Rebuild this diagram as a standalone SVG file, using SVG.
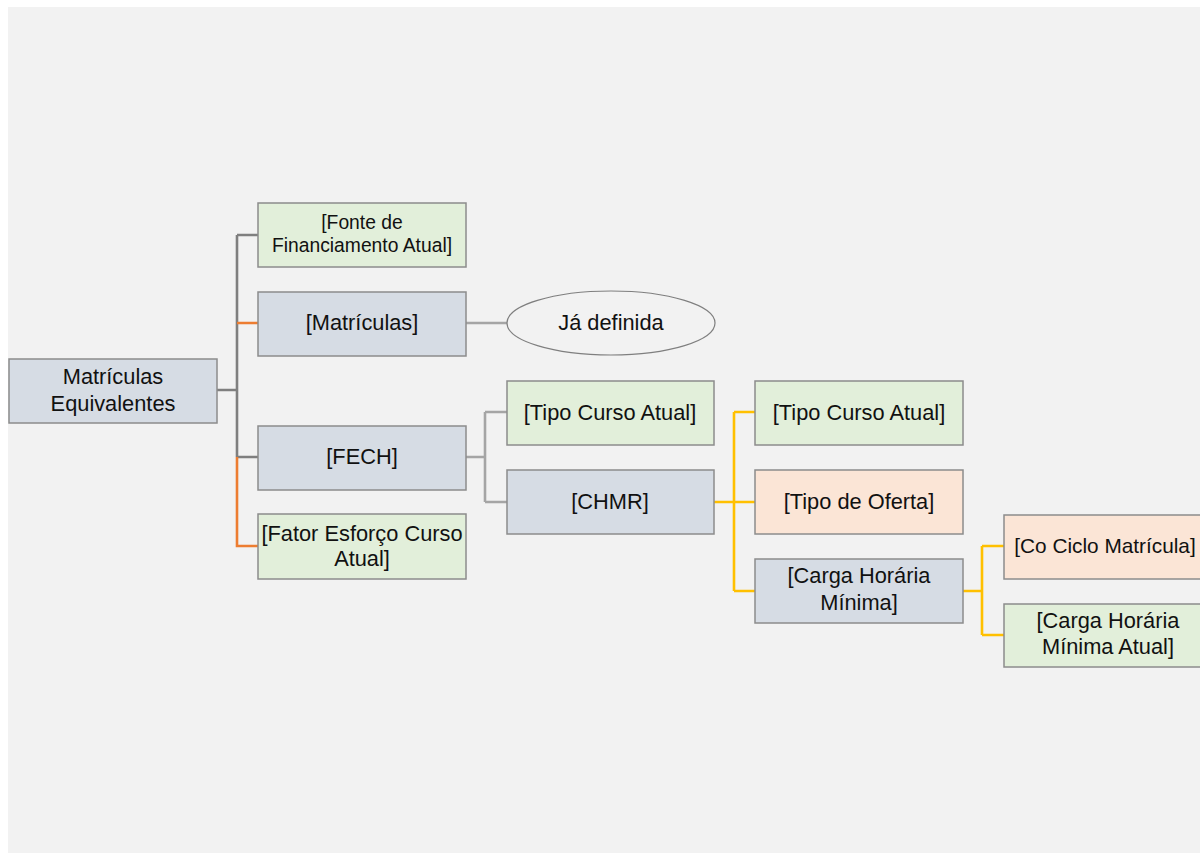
<svg xmlns="http://www.w3.org/2000/svg" width="1200" height="853" viewBox="0 0 1200 853">
<style>
.box{stroke:#8c8c8c;stroke-width:1.5}
.g{fill:#e2efda}
.b{fill:#d6dce4}
.p{fill:#fbe5d6}
text{font-family:"Liberation Sans",Arial,sans-serif;font-size:21.8px;fill:#111;text-anchor:middle}
.sm{font-size:19.3px}
.c{fill:none;stroke-width:2.6}
.dg{stroke:#7f7f7f}
.or{stroke:#ed7d31}
.lg{stroke:#a5a5a5}
.ye{stroke:#ffc000}
</style>
<rect x="0" y="0" width="1200" height="853" fill="#ffffff"/>
<rect x="8" y="7" width="1192" height="846" fill="#f2f2f2"/>
<g id="connectors">
<path class="c dg" d="M217 390 H237 M237 235 V457 M237 235 H258 M237 457 H258"/>
<path class="c or" d="M237 323 H258 M237 457 V546 H258"/>
<path class="c lg" d="M466 323 H507 M466 457 H485 M485 412 V502 M485 412 H507 M485 502 H507"/>
<path class="c ye" d="M714 502 H734 M734 412 V591 M734 412 H755 M734 502 H755 M734 591 H755 M963 591 H982 M982 546 V635 M982 546 H1004 M982 635 H1004"/>
</g>
<g id="root"><rect class="box b" x="9" y="359" width="208" height="64"/><text x="113" y="384">Matrículas</text><text x="113" y="411">Equivalentes</text></g>
<g id="fonte"><rect class="box g" x="258" y="203" width="208" height="64"/><text class="sm" x="362" y="229">[Fonte de</text><text class="sm" x="362" y="252">Financiamento Atual]</text></g>
<g id="matriculas"><rect class="box b" x="258" y="292" width="208" height="64"/><text x="362" y="330">[Matrículas]</text></g>
<g id="ja-definida"><ellipse cx="611" cy="323" rx="104" ry="32" fill="#f2f2f2" stroke="#7f7f7f" stroke-width="1.2"/><text x="611" y="330">Já definida</text></g>
<g id="fech"><rect class="box b" x="258" y="426" width="208" height="64"/><text x="362" y="464">[FECH]</text></g>
<g id="fator"><rect class="box g" x="258" y="514" width="208" height="65"/><text x="362" y="541">[Fator Esforço Curso</text><text x="362" y="566">Atual]</text></g>
<g id="tipo-curso-1"><rect class="box g" x="507" y="381" width="207" height="64"/><text x="610" y="420">[Tipo Curso Atual]</text></g>
<g id="chmr"><rect class="box b" x="507" y="470" width="207" height="64"/><text x="610" y="509">[CHMR]</text></g>
<g id="tipo-curso-2"><rect class="box g" x="755" y="381" width="208" height="64"/><text x="859" y="420">[Tipo Curso Atual]</text></g>
<g id="tipo-oferta"><rect class="box p" x="755" y="470" width="208" height="64"/><text x="859" y="509">[Tipo de Oferta]</text></g>
<g id="carga-minima"><rect class="box b" x="755" y="559" width="208" height="64"/><text x="859" y="583">[Carga Horária</text><text x="859" y="610">Mínima]</text></g>
<g id="co-ciclo"><rect class="box p" x="1004" y="515" width="208" height="64"/><text x="1105" y="553" style="font-size:20.8px">[Co Ciclo Matrícula]</text></g>
<g id="carga-atual"><rect class="box g" x="1004" y="604" width="208" height="63"/><text x="1108" y="628">[Carga Horária</text><text x="1108" y="654">Mínima Atual]</text></g>
</svg>
